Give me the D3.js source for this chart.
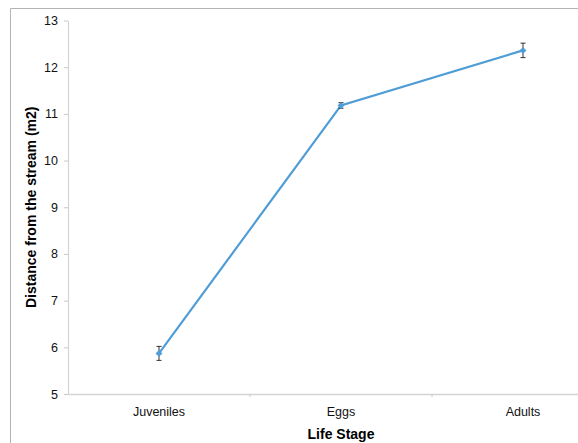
<!DOCTYPE html>
<html>
<head>
<meta charset="utf-8">
<script src="https://cdn.jsdelivr.net/npm/d3@7"></script>
<style>
  body { margin: 0; background: #fff; }
  svg text { font-family: "Liberation Sans", Arial, sans-serif; }
</style>
</head>
<body>
<svg id="chart" width="578" height="443"></svg>
<script>
// data
var stages = ["Juveniles", "Eggs", "Adults"]
var distance = [5.87, 11.18, 12.36]
var errors = [0.15, 0.06, 0.155]
var yTicks = [5, 6, 7, 8, 9, 10, 11, 12, 13]

var data = stages.map((s, i) => ({stage: s, value: distance[i], err: errors[i]}))

var svg = d3.select("#chart")

// outer frame (cropped at right/bottom)
svg.append("path")
    .attr("d", "M10.5,443 V8.5 H578")
    .attr("fill", "none")
    .attr("stroke", "#b4b4b4")
    .attr("stroke-width", 1)

// "top" is taken by window.top, so keep the plot box in its own names
var plotLeft = 68, plotTop = 20.5, plotBottom = 394

var x = d3.scaleBand()
    .domain(stages)
    .range([plotLeft, plotLeft + 546])

var y = d3.scaleLinear()
    .domain([5, 13])
    .range([plotBottom, plotTop])

// x axis
var xAxis = svg.append("g")
    .attr("transform", "translate(0," + plotBottom + ")")
    .call(d3.axisBottom(x).tickSize(0).tickPadding(13))
xAxis.select(".domain").attr("stroke", "#d4d4d4").attr("stroke-width", 1.5)
xAxis.selectAll("text").attr("font-size", 12.5).attr("fill", "#111")

// tick marks at category boundaries
svg.append("g").selectAll("line")
    .data(stages.slice(1))
    .enter().append("line")
    .attr("x1", d => x(d)).attr("x2", d => x(d))
    .attr("y1", plotBottom).attr("y2", plotBottom + 3)
    .attr("stroke", "#c8c8c8")

// y axis
var yAxis = svg.append("g")
    .attr("transform", "translate(" + plotLeft + ",0)")
    .call(d3.axisLeft(y).tickValues(yTicks).tickSize(4).tickPadding(6).tickSizeOuter(0))
yAxis.select(".domain").attr("stroke", "#d4d4d4").attr("stroke-width", 1.2)
yAxis.selectAll(".tick line").attr("stroke", "#c8c8c8")
yAxis.selectAll("text").attr("font-size", 12.5).attr("fill", "#111")

// axis titles
svg.append("text")
    .attr("x", 341).attr("y", 439)
    .attr("text-anchor", "middle")
    .attr("font-size", 14).attr("font-weight", "bold")
    .text("Life Stage")

svg.append("text")
    .attr("transform", "translate(36," + ((plotTop + plotBottom) / 2) + ") rotate(-90)")
    .attr("text-anchor", "middle")
    .attr("font-size", 14).attr("font-weight", "bold")
    .text("Distance from the stream (m2)")

var cx = d => x(d.stage) + x.bandwidth() / 2

// line
var line = d3.line()
    .x(cx)
    .y(d => y(d.value))

svg.append("path")
    .datum(data)
    .attr("d", line)
    .attr("fill", "none")
    .attr("stroke", "#4f9dd6")
    .attr("stroke-width", 2.2)

// error bars
var eb = svg.append("g").selectAll("g")
    .data(data)
    .enter().append("g")
    .attr("stroke", "#333")
    .attr("stroke-width", 1)

eb.append("line")
    .attr("x1", cx).attr("x2", cx)
    .attr("y1", d => y(d.value + d.err)).attr("y2", d => y(d.value - d.err))
eb.append("line")
    .attr("x1", d => cx(d) - 2.5).attr("x2", d => cx(d) + 2.5)
    .attr("y1", d => y(d.value + d.err)).attr("y2", d => y(d.value + d.err))
eb.append("line")
    .attr("x1", d => cx(d) - 2.5).attr("x2", d => cx(d) + 2.5)
    .attr("y1", d => y(d.value - d.err)).attr("y2", d => y(d.value - d.err))

// diamond markers
svg.append("g").selectAll("path")
    .data(data)
    .enter().append("path")
    .attr("transform", d => "translate(" + cx(d) + "," + y(d.value) + ")")
    .attr("d", d3.symbol().type(d3.symbolDiamond2).size(30))
    .attr("fill", "#4f9dd6")
</script>
</body>
</html>
